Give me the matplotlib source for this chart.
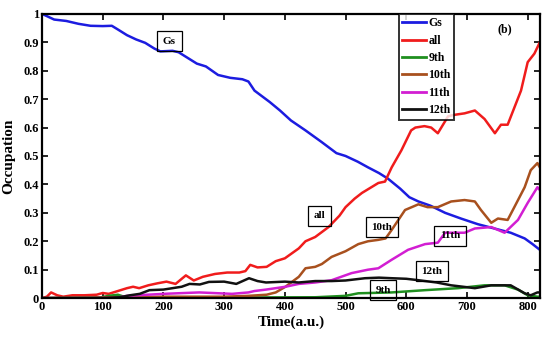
import matplotlib
matplotlib.use('Agg')
import matplotlib.pyplot as plt

t_gs = [0, 10, 20, 40, 60, 80, 100, 115, 125, 140, 155, 170, 185, 195, 215, 225, 240, 255, 270, 290,
        310, 330, 340, 350, 375, 392, 410, 434, 460, 485, 500, 520, 537, 555, 570, 590, 605, 620, 640,
        664, 690, 718, 745, 772, 795, 808, 820]
gs = [1.0, 0.99, 0.98, 0.975, 0.965, 0.958, 0.957, 0.958, 0.945, 0.925, 0.91, 0.898, 0.878, 0.868,
      0.87, 0.865, 0.845, 0.825, 0.815, 0.785, 0.775, 0.77, 0.762, 0.73, 0.69, 0.66, 0.625, 0.59, 0.55,
      0.51, 0.50, 0.48, 0.46, 0.44, 0.42, 0.385, 0.355, 0.34, 0.325, 0.30, 0.28, 0.26, 0.245, 0.23,
      0.21, 0.19, 0.17]

t_all = [0, 8, 15, 25, 35, 50, 70, 90, 100, 110, 125, 140, 150, 160, 175, 190, 205, 220, 237, 250,
         265, 285, 305, 325, 335, 343, 355, 370, 385, 400, 423, 434, 450, 472, 490, 500, 515, 527, 554,
         565, 576, 592, 608, 615, 630, 641, 652, 669, 680, 696, 713, 729, 746, 756, 767, 778, 789, 800,
         811, 820]
all_ = [0.0, 0.005, 0.02, 0.01, 0.005, 0.01, 0.01, 0.012, 0.018, 0.015, 0.025, 0.035, 0.04, 0.035,
        0.045, 0.052, 0.058, 0.05, 0.08, 0.062, 0.075, 0.085, 0.09, 0.09, 0.095, 0.117, 0.108, 0.11,
        0.13, 0.14, 0.175, 0.2, 0.215, 0.25, 0.29, 0.32, 0.35, 0.37, 0.405, 0.41, 0.46, 0.52, 0.59,
        0.60, 0.605, 0.60, 0.58, 0.64, 0.645, 0.65, 0.66, 0.63, 0.58, 0.61, 0.61, 0.67, 0.73, 0.83,
        0.86, 0.90]

t_9 = [0, 95, 110, 125, 135, 150, 300, 450, 500, 521, 576, 631, 685, 729, 762, 784, 800, 816, 820]
s9 = [0.0, 0.002, 0.008, 0.012, 0.005, 0.002, 0.002, 0.003, 0.008, 0.017, 0.02, 0.028, 0.035, 0.045,
      0.045, 0.03, 0.01, 0.005, 0.005]

t_10 = [0, 130, 200, 300, 340, 370, 385, 401, 423, 434, 450, 461, 477, 500, 521, 537, 554, 566, 576,
        598, 620, 635, 652, 674, 696, 713, 723, 740, 751, 767, 778, 795, 805, 816, 820]
s10 = [0.0, 0.003, 0.005, 0.005, 0.008, 0.012, 0.02, 0.04, 0.075, 0.105, 0.11, 0.12, 0.145, 0.165,
       0.19, 0.20, 0.205, 0.21, 0.24, 0.31, 0.33, 0.32, 0.32, 0.34, 0.345, 0.34, 0.31, 0.265, 0.28,
       0.275, 0.32, 0.39, 0.45, 0.475, 0.46]

t_11 = [0, 120, 140, 200, 259, 313, 340, 350, 369, 401, 423, 450, 477, 510, 537, 554, 576, 603, 631,
        652, 664, 696, 713, 740, 762, 784, 800, 816, 820]
s11 = [0.0, 0.0, 0.008, 0.015, 0.02, 0.015, 0.02, 0.025, 0.03, 0.04, 0.05, 0.055, 0.063, 0.088, 0.10,
       0.105, 0.135, 0.17, 0.19, 0.195, 0.23, 0.23, 0.245, 0.25, 0.23, 0.275, 0.335, 0.39, 0.38]

t_12 = [0, 100, 128, 145, 161, 177, 200, 215, 230, 243, 260, 275, 300, 320, 341, 355, 369, 400, 423,
        450, 477, 500, 532, 555, 576, 600, 620, 650, 674, 713, 740, 772, 795, 805, 816, 820]
s12 = [0.0, 0.0, 0.003, 0.01, 0.015, 0.028, 0.03, 0.035, 0.04, 0.05, 0.048, 0.057, 0.058, 0.05, 0.07,
       0.06, 0.055, 0.058, 0.055, 0.06, 0.06, 0.062, 0.07, 0.072, 0.07, 0.068, 0.063, 0.055, 0.045,
       0.035, 0.045, 0.045, 0.017, 0.01, 0.02, 0.02]

series = [
    ('Gs', t_gs, gs, '#1c1ce0'),
    ('all', t_all, all_, '#f01c1c'),
    ('9th', t_9, s9, '#1f8f1f'),
    ('10th', t_10, s10, '#a8501e'),
    ('11th', t_11, s11, '#d21ed2'),
    ('12th', t_12, s12, '#111111'),
]

# text boxes on the curves
tags = [('Gs', 210, 0.903), ('all', 457, 0.29), ('10th', 560, 0.25), ('11th', 672, 0.22),
        ('12th', 642, 0.095), ('9th', 562, 0.028)]

plt.rcParams['font.family'] = ['Liberation Serif', 'DejaVu Serif']
plt.rcParams['font.weight'] = 'bold'

fig = plt.figure(figsize=(5.42, 3.38), dpi=100)
ax = fig.add_axes([0.0775, 0.118, 0.9185, 0.841])

for name, t, v, c in series:
    ax.plot(t, v, color=c, lw=1.8, label=name)

for txt, x, y in tags:
    ax.text(x, y, txt, ha='center', va='center', fontsize=8, fontweight='bold',
            bbox=dict(boxstyle='square,pad=0.5', fc='none', ec='black', lw=0.9))

ax.text(763, 0.944, '(b)', ha='center', va='center', fontsize=8.5, fontweight='bold')

ax.set_xlim(0, 820)
ax.set_ylim(0, 1)
ax.set_xticks(range(0, 801, 100))
ax.set_yticks([i / 10 for i in range(11)])
ax.set_yticklabels(['0'] + ['%.1f' % (i / 10) for i in range(1, 10)] + ['1'])
ax.tick_params(direction='in', top=True, right=True, labelsize=9, width=1.2, length=4, pad=2)
for lab in ax.get_xticklabels() + ax.get_yticklabels():
    lab.set_fontweight('bold')
for sp in ax.spines.values():
    sp.set_linewidth(1.6)

ax.set_xlabel('Time(a.u.)', fontsize=11, fontweight='bold', labelpad=2)
ax.set_ylabel('Occupation', fontsize=11, fontweight='bold', labelpad=6)

leg = ax.legend(loc='upper left', bbox_to_anchor=(0.717, 1.0), fontsize=8.5, frameon=True,
                fancybox=False, edgecolor='black', handlelength=2.0, handletextpad=0.2,
                labelspacing=0.45, borderpad=0.3, borderaxespad=0)
leg.get_frame().set_linewidth(1.4)
for line in leg.get_lines():
    line.set_linewidth(2.0)
for txt in leg.get_texts():
    txt.set_fontweight('bold')

fig.savefig('out.png', dpi=100)
